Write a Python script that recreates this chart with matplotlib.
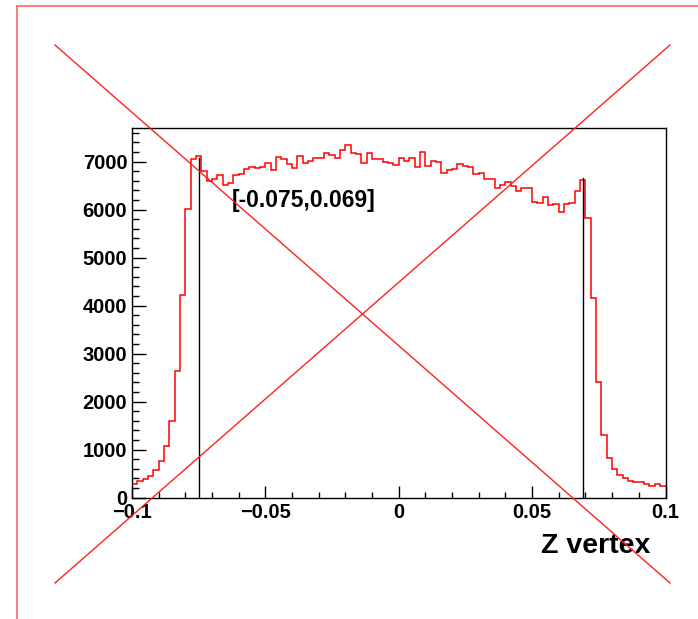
import numpy as np
import matplotlib
matplotlib.use("Agg")
import matplotlib.pyplot as plt
from matplotlib.lines import Line2D
from matplotlib.ticker import MultipleLocator, FixedLocator

plt.rcParams['font.family'] = ['Liberation Sans', 'DejaVu Sans']
plt.rcParams['font.weight'] = 'bold'

# ---- data ----
x_min, x_max, n_bins = -0.1, 0.1, 100
counts = [
    286, 334, 376, 445, 571, 752, 1072, 1587, 2631, 4218,
    6007, 7045, 7120, 6813, 6600, 6646, 6723, 6521, 6556, 6716,
    6734, 6848, 6883, 6869, 6897, 6975, 6827, 7100, 7047, 6960,
    6865, 7120, 6970, 7022, 7078, 7078, 7186, 7140, 7078, 7245,
    7356, 7185, 7160, 6966, 7189, 7064, 7064, 6995, 6966, 6928,
    7068, 7022, 7078, 6890, 7210, 6911, 7005, 6990, 6772, 6834,
    6855, 6942, 6915, 6883, 6744, 6772, 6633, 6633, 6452, 6510,
    6580, 6494, 6396, 6440, 6445, 6163, 6132, 6257, 6104, 6110,
    5955, 6118, 6132, 6386, 6619, 5832, 4149, 2401, 1295, 821,
    599, 459, 397, 348, 327, 327, 271, 230, 285, 250,
]
window = [-0.075, 0.069]
window_heights = [7070, 6650]
window_label = "[-0.075,0.069]"
x_title = "Z vertex"
x_ticks = [-0.1, -0.05, 0, 0.05, 0.1]
x_tick_labels = ["\u22120.1", "\u22120.05", "0", "0.05", "0.1"]
y_ticks = [0, 1000, 2000, 3000, 4000, 5000, 6000, 7000]
y_tick_labels = ["0", "1000", "2000", "3000", "4000", "5000", "6000", "7000"]
y_max = 7700

W, H = 698, 619
fig = plt.figure(figsize=(W / 100, H / 100), dpi=100)
fig.patch.set_facecolor('white')

ax = fig.add_axes([132 / W, 1 - 497.5 / H, 533.5 / W, 369.5 / H])
edges = np.linspace(x_min, x_max, n_bins + 1)
ax.stairs(counts, edges, baseline=None, color='#ff0000', linewidth=1.1)

for xv, hv in zip(window, window_heights):
    ax.plot([xv, xv], [0, hv], color='black', linewidth=1.0)

ax.text(-0.0625, 6045, window_label, fontsize=16.5, fontweight='bold',
        ha='left', va='baseline')

ax.set_xlim(x_min, x_max)
ax.set_ylim(0, y_max)

ax.xaxis.set_major_locator(FixedLocator(x_ticks))
ax.set_xticklabels(x_tick_labels)
ax.xaxis.set_minor_locator(MultipleLocator(0.01))
ax.yaxis.set_major_locator(FixedLocator(y_ticks))
ax.set_yticklabels(y_tick_labels)
ax.yaxis.set_minor_locator(MultipleLocator(200))

ax.tick_params(axis='x', which='major', direction='in', length=8.6, width=1,
               labelsize=14.5, pad=3.6, top=False)
ax.tick_params(axis='x', which='minor', direction='in', length=4.3, width=1, top=False)
ax.tick_params(axis='y', which='major', direction='in', length=10, width=1,
               labelsize=14.5, pad=3.4, right=False)
ax.tick_params(axis='y', which='minor', direction='in', length=5, width=1, right=False)
for lab in ax.get_xticklabels() + ax.get_yticklabels():
    lab.set_fontweight('bold')

for s in ax.spines.values():
    s.set_linewidth(1.0)
    s.set_color('black')

ax.set_xlabel(x_title, fontsize=20.5, fontweight='bold', ha='right', va='baseline')
ax.xaxis.set_label_coords(0.971, -0.150)

# decorations: pad border and crossing lines
red = '#ff2020'
fig.add_artist(Line2D([55 / W, 670 / W], [1 - 45 / H, 1 - 583 / H],
                      transform=fig.transFigure, color=red, linewidth=1.0))
fig.add_artist(Line2D([55 / W, 670 / W], [1 - 583 / H, 1 - 45 / H],
                      transform=fig.transFigure, color=red, linewidth=1.0))
fig.add_artist(Line2D([16.7 / W, 1.0], [1 - 6.3 / H, 1 - 6.3 / H],
                      transform=fig.transFigure, color='#ff6666', linewidth=1.2))
fig.add_artist(Line2D([16.7 / W, 16.7 / W], [1 - 6.3 / H, 0.0],
                      transform=fig.transFigure, color='#ff6666', linewidth=1.2))

fig.savefig("out.png", dpi=100)
